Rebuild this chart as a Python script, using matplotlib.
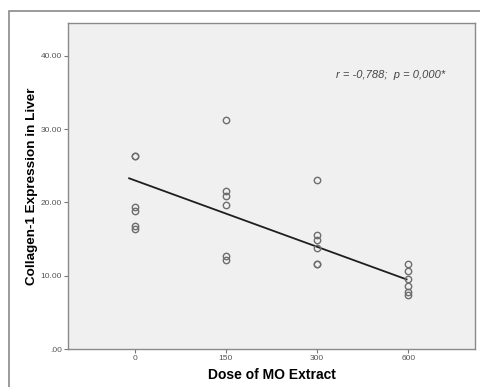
import matplotlib
matplotlib.use('Agg')
import matplotlib.pyplot as plt
import numpy as np
from matplotlib.patches import Rectangle

# dose groups (categorical positions on the axis)
dose_labels = ['0', '150', '300', '600']

# collagen-1 expression, per group
grp_0   = [26.4, 26.4, 19.35, 18.9, 16.8, 16.4]
grp_150 = [31.2, 21.5, 20.9, 19.6, 12.75, 12.2]
grp_300 = [23.1, 15.6, 14.85, 13.8, 11.6, 11.6]
grp_600 = [11.6, 10.6, 9.6, 8.55, 7.8, 7.35]

# fitted line as drawn (group index -> value)
fit_x = [-0.06, 2.98]
fit_y = [23.3, 9.5]

yticks = [0, 10, 20, 30, 40]
ytick_labels = ['.00', '10.00', '20.00', '30.00', '40.00']

plt.rcParams['font.family'] = ['Liberation Sans', 'DejaVu Sans']

fig = plt.figure(figsize=(4.81, 3.87), dpi=100)
fig.patch.set_facecolor('white')

# outer frame round the whole chart
frame = Rectangle((9/481, -0.05), 1.2, 1 - 11/387 + 0.05, transform=fig.transFigure,
                  fill=False, edgecolor='#8a8a8a', lw=1.2)
fig.patches.append(frame)

ax = fig.add_axes([68/481, 38/387, 407/481, 326/387])
ax.set_facecolor('#f0f0f0')

groups = [grp_0, grp_150, grp_300, grp_600]
for i, g in enumerate(groups):
    ax.plot([i]*len(g), g, 'o', mfc='none', mec='#6e6e6e', ms=4.6, mew=1.0, zorder=3)

ax.plot(fit_x, fit_y, color='#1e1e1e', lw=1.3, zorder=2)

ax.set_xlim(-0.73, 3.73)
ax.set_ylim(0, 44.5)
ax.set_xticks(range(len(dose_labels)))
ax.set_xticklabels(dose_labels)
ax.set_yticks(yticks)
ax.set_yticklabels(ytick_labels)
ax.tick_params(axis='both', direction='out', length=3, width=0.8, color='#777777',
               labelsize=6, labelcolor='#555555', pad=1.5)

for s in ax.spines.values():
    s.set_color('#8a8a8a')
    s.set_linewidth(1.0)

ax.set_xlabel('Dose of MO Extract', fontsize=10, fontweight='bold', labelpad=4)
ax.set_ylabel('Collagen-1 Expression in Liver', fontsize=9.7, fontweight='bold', labelpad=2)

ax.text(0.926, 0.84, 'r = -0,788;  p = 0,000*', transform=ax.transAxes, ha='right', va='center',
        fontsize=8, style='italic', color='#444444')

fig.savefig('out.png', dpi=100)
